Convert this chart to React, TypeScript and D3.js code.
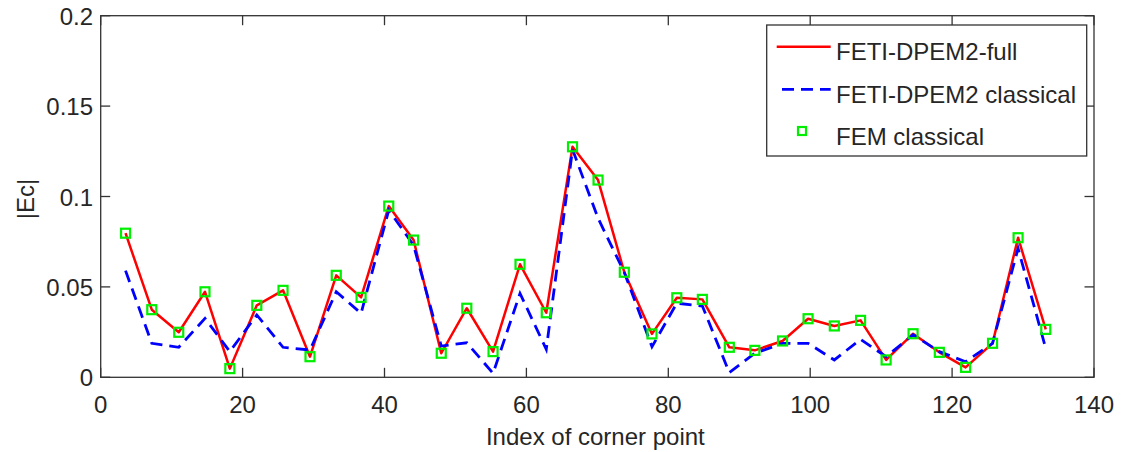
import React from "react";
import * as d3 from "d3";

const cornerIndex = [3.5, 7.2, 11.0, 14.7, 18.2, 22.0, 25.7, 29.5, 33.2, 36.7, 40.6, 44.1, 48.0, 51.6, 55.3, 59.1, 62.8, 66.5, 70.1, 73.8, 77.7, 81.2, 84.8, 88.6, 92.2, 96.1, 99.7, 103.4, 107.1, 110.7, 114.5, 118.2, 121.9, 125.7, 129.3, 133.2];
const fetiFull = [0.0797, 0.0374, 0.0249, 0.0473, 0.0048, 0.0398, 0.0481, 0.0114, 0.0564, 0.0442, 0.0947, 0.0759, 0.0133, 0.0382, 0.0142, 0.0625, 0.0357, 0.1275, 0.1091, 0.0581, 0.0240, 0.0440, 0.0431, 0.0166, 0.0149, 0.0201, 0.0324, 0.0284, 0.0315, 0.0096, 0.0241, 0.0138, 0.0055, 0.0188, 0.0772, 0.0265];
const fetiClassical = [0.059, 0.0188, 0.0166, 0.0326, 0.0142, 0.0345, 0.0166, 0.0151, 0.0473, 0.0354, 0.0925, 0.073, 0.0173, 0.0191, 0.0022, 0.0464, 0.0155, 0.126, 0.088, 0.058, 0.0169, 0.041, 0.0394, 0.0026, 0.0133, 0.0188, 0.0188, 0.0096, 0.021, 0.0114, 0.0235, 0.0142, 0.0086, 0.0188, 0.0713, 0.016];
const femClassical = [0.0797, 0.0374, 0.0249, 0.0473, 0.0048, 0.0398, 0.0481, 0.0114, 0.0564, 0.0442, 0.0947, 0.0759, 0.0133, 0.0382, 0.0142, 0.0625, 0.0357, 0.1275, 0.1091, 0.0581, 0.0240, 0.0440, 0.0431, 0.0166, 0.0149, 0.0201, 0.0324, 0.0284, 0.0315, 0.0096, 0.0241, 0.0138, 0.0055, 0.0188, 0.0772, 0.0265];

const xTicks = [0, 20, 40, 60, 80, 100, 120, 140];
const yTicks = [0, 0.05, 0.1, 0.15, 0.2];
const yTickLabels = ["0", "0.05", "0.1", "0.15", "0.2"];
const legendLabels = ["FETI-DPEM2-full", "FETI-DPEM2 classical", "FEM classical"];
const xLabel = "Index of corner point";
const yLabel = "|Ec|";

const W = 1123, H = 452;
const L = 100.7, R = 1094, T = 15.7, B = 377.3;
const FONT = "'Liberation Sans', Arial, Helvetica, sans-serif";
const TXT = "#262626";
const AX = "#333333";

export default function App() {
  const x = d3.scaleLinear().domain([0, 140]).range([L, R]);
  const y = d3.scaleLinear().domain([0, 0.2]).range([B, T]);
  const line = d3.line<number>().x((_, i) => x(cornerIndex[i])).y((d) => y(d));
  const tk = 9.5;

  return (
    <svg width={W} height={H} style={{ position: "absolute", left: 0, top: 0, background: "#fff" }} fontFamily={FONT}>
      <rect x={0} y={0} width={W} height={H} fill="#fff" />
      {/* axes box */}
      <rect x={L} y={T} width={R - L} height={B - T} fill="none" stroke={AX} strokeWidth={1.3} />
      {xTicks.map((t) => (
        <g key={"x" + t}>
          <line x1={x(t)} x2={x(t)} y1={B} y2={B - tk} stroke={AX} strokeWidth={1.3} />
          <line x1={x(t)} x2={x(t)} y1={T} y2={T + tk} stroke={AX} strokeWidth={1.3} />
          <text x={x(t)} y={413} textAnchor="middle" fontSize={24} fill={TXT}>{t}</text>
        </g>
      ))}
      {yTicks.map((t, i) => (
        <g key={"y" + t}>
          <line x1={L} x2={L + tk} y1={y(t)} y2={y(t)} stroke={AX} strokeWidth={1.3} />
          <line x1={R} x2={R - tk} y1={y(t)} y2={y(t)} stroke={AX} strokeWidth={1.3} />
          <text x={93} y={y(t) + 9} textAnchor="end" fontSize={24} fill={TXT}>{yTickLabels[i]}</text>
        </g>
      ))}
      <text x={(L + R) / 2 - 2} y={445} textAnchor="middle" fontSize={24} fill={TXT}>{xLabel}</text>
      <text transform={`translate(34,199) rotate(-90)`} textAnchor="middle" fontSize={24} fill={TXT}>{yLabel}</text>

      {/* series */}
      <path d={line(fetiFull) || ""} fill="none" stroke="#ff0000" strokeWidth={2.5} strokeLinejoin="round" />
      <path d={line(fetiClassical) || ""} fill="none" stroke="#0000ff" strokeWidth={2.8} strokeDasharray="12,7" />
      {femClassical.map((v, i) => (
        <rect key={"m" + i} x={x(cornerIndex[i]) - 4.5} y={y(v) - 4.5} width={9} height={9} fill="none" stroke="#00ee00" strokeWidth={2.2} />
      ))}

      {/* legend */}
      <rect x={766.7} y={25} width={320} height={131} fill="#fff" stroke={AX} strokeWidth={1.3} />
      <line x1={776.7} x2={830.7} y1={46.7} y2={46.7} stroke="#ff0000" strokeWidth={2.5} />
      <line x1={782} x2={830.7} y1={89.3} y2={89.3} stroke="#0000ff" strokeWidth={2.8} strokeDasharray="12,7" />
      <rect x={798} y={127} width={8} height={8} fill="none" stroke="#00ee00" strokeWidth={2.2} />
      {legendLabels.map((s, i) => (
        <text key={s} x={836} y={[60, 102.7, 145][i]} fontSize={24} fill={TXT}>{s}</text>
      ))}
    </svg>
  );
}
